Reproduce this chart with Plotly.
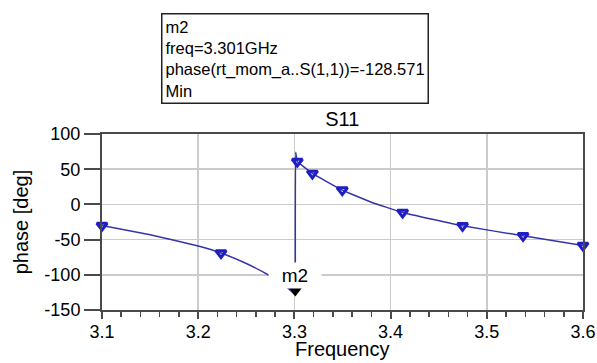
import plotly.graph_objects as go

# ---- data ----
freq_left = [3.1, 3.15, 3.2, 3.2237, 3.25, 3.274, 3.29, 3.301]
phase_left = [-30, -43, -59, -69, -84, -101, -115, -128.571]

freq_right = [3.301, 3.3013, 3.303, 3.3187, 3.3498, 3.38, 3.4125, 3.4748, 3.5377, 3.6]
phase_right = [-128.571, 74, 61, 44, 20.3, 3, -11.4, -30.4, -44.6, -58.3]

marker_freq = [3.1, 3.2237, 3.303, 3.3187, 3.3498, 3.4125, 3.4748, 3.5377, 3.6]
marker_phase = [-30, -69, 61, 44, 20.3, -11.4, -30.4, -44.6, -58.3]

m2_freq = 3.301
m2_phase = -128.571

x_ticks = [3.1, 3.2, 3.3, 3.4, 3.5, 3.6]
x_labels = ["3.1", "3.2", "3.3", "3.4", "3.5", "3.6"]
y_ticks = [-150, -100, -50, 0, 50, 100]
y_labels = ["-150", "-100", "-50", "0", "50", "100"]

LINE = "#3434a8"
MARK = "#1e1ec4"
AXIS = "#4a4a4a"
GRID = "#cbcbcb"
FONT = "Liberation Sans, Arial, sans-serif"

PLOT_TOP, PLOT_BOTTOM = 134, 310  # pixel rows of the plot area

fig = go.Figure()
fig.add_trace(go.Scatter(x=freq_left + freq_right, y=phase_left + phase_right,
                         mode="lines", line=dict(color=LINE, width=1.5, shape="spline", smoothing=0.3),
                         showlegend=False, hoverinfo="skip"))
fig.add_trace(go.Scatter(x=marker_freq, y=marker_phase, mode="markers",
                         cliponaxis=False,
                         marker=dict(symbol="triangle-down-open", size=9,
                                     color=MARK, line=dict(color=MARK, width=3)),
                         showlegend=False, hoverinfo="skip"))
fig.add_trace(go.Scatter(x=[m2_freq], y=[m2_phase], mode="markers",
                         cliponaxis=False,
                         marker=dict(symbol="triangle-up", angle=180, standoff=5,
                                     size=13, color="black"),
                         showlegend=False, hoverinfo="skip"))

fig.add_annotation(x=m2_freq, y=m2_phase, text="m2", showarrow=False,
                   yshift=19, font=dict(family=FONT, size=19, color="black"),
                   bgcolor="white", width=48, borderpad=2)

fig.add_annotation(xref="paper", yref="paper", x=0.1227, y=1.689,
                   xanchor="left", yanchor="top", align="left",
                   text="m2<br>freq=3.301GHz<br>phase(rt_mom_a..S(1,1))=-128.571<br>Min",
                   showarrow=False, font=dict(family=FONT, size=16.5, color="black"),
                   bordercolor="#222222", borderwidth=1.5, borderpad=3,
                   bgcolor="white")

# x-axis title placed as annotation for exact vertical position
fig.add_annotation(xref="paper", yref="paper", x=0.5, xanchor="center",
                   y=(PLOT_BOTTOM - 349) / (PLOT_BOTTOM - PLOT_TOP), yanchor="middle",
                   text="Frequency", showarrow=False,
                   font=dict(family=FONT, size=20, color="black"))

fig.update_layout(
    width=597, height=363,
    margin=dict(l=102, r=14, t=134, b=53, autoexpand=False),
    paper_bgcolor="white", plot_bgcolor="white",
    font=dict(family=FONT, color="black"),
    title=dict(text="S11", x=0.5734, xanchor="center", yref="container",
               y=1 - 119 / 363, yanchor="middle",
               font=dict(family=FONT, size=20, color="black")),
    xaxis=dict(range=[3.1, 3.6], tickvals=x_ticks, ticktext=x_labels,
               automargin=False, ticklabelstandoff=-3,
               showline=True, linecolor=AXIS, linewidth=2, mirror=True,
               showgrid=True, gridcolor=GRID, gridwidth=1.5,
               ticks="outside", ticklen=7, tickwidth=2, tickcolor=AXIS,
               tickfont=dict(size=18), zeroline=False,
               minor=dict(dtick=0.02, tick0=3.1, ticks="outside", ticklen=5,
                          tickwidth=1.5, tickcolor=AXIS, showgrid=False)),
    yaxis=dict(range=[-150, 100], tickvals=y_ticks, ticktext=y_labels,
               automargin=False,
               showline=True, linecolor=AXIS, linewidth=2, mirror=True,
               showgrid=True, gridcolor=GRID, gridwidth=1.5,
               ticks="outside", ticklen=16, tickwidth=2, tickcolor=AXIS,
               tickfont=dict(size=18), zeroline=False,
               title=dict(text="phase [deg]", font=dict(size=20), standoff=10)),
)

fig.write_html("out.html", config={"displayModeBar": False, "staticPlot": True},
               post_script="document.body.style.margin='0';document.body.style.padding='0';")
